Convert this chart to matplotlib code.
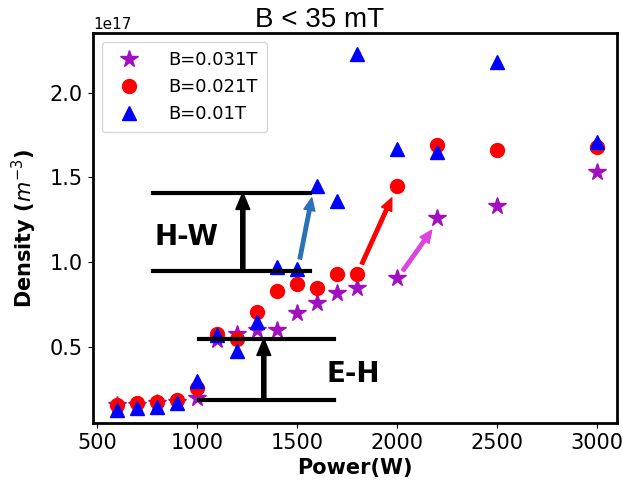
import numpy as np
import matplotlib.pyplot as plt

power = [600, 700, 800, 900, 1000, 1100, 1200, 1300, 1400, 1500, 1600, 1700, 1800, 2000, 2200, 2500, 3000]
dens_031 = [0.16, 0.16, 0.17, 0.18, 0.20, 0.54, 0.58, 0.60, 0.60, 0.70, 0.76, 0.82, 0.85, 0.91, 1.26, 1.33, 1.53]
dens_021 = [0.16, 0.17, 0.18, 0.19, 0.26, 0.58, 0.55, 0.71, 0.83, 0.87, 0.85, 0.93, 0.93, 1.45, 1.69, 1.66, 1.68]
dens_01 = [0.13, 0.14, 0.15, 0.17, 0.30, 0.57, 0.48, 0.65, 0.97, 0.96, 1.45, 1.36, 2.23, 1.67, 1.65, 2.18, 1.71]

scale = 1e17
fig = plt.figure(figsize=(6.23, 4.96), dpi=100)
ax = fig.add_axes([0.149, 0.147, 0.841, 0.786])

ax.plot(power, np.array(dens_031) * scale, '*', color='#a010c0', markersize=13, label='B=0.031T')
ax.plot(power, np.array(dens_021) * scale, 'o', color='red', markersize=10, label='B=0.021T')
ax.plot(power, np.array(dens_01) * scale, '^', color='blue', markersize=10, label='B=0.01T')

# H-W and E-H transition markers
for y in [1.41, 0.95]:
    ax.plot([780, 1565], [y * scale, y * scale], color='black', lw=3)
for y in [0.55, 0.19]:
    ax.plot([1010, 1685], [y * scale, y * scale], color='black', lw=3)
ax.annotate('', xy=(1230, 1.41 * scale), xytext=(1230, 0.95 * scale),
            arrowprops=dict(facecolor='black', edgecolor='black', width=3, headwidth=10, headlength=12))
ax.annotate('', xy=(1335, 0.55 * scale), xytext=(1335, 0.19 * scale),
            arrowprops=dict(facecolor='black', edgecolor='black', width=3, headwidth=10, headlength=12))
ax.text(790, 1.15 * scale, 'H-W', fontsize=20, fontweight='bold', va='center')
ax.text(1650, 0.34 * scale, 'E-H', fontsize=20, fontweight='bold', va='center')

# coloured arrows
ax.annotate('', xy=(1575, 1.38 * scale), xytext=(1515, 1.02 * scale),
            arrowprops=dict(facecolor='#2a72b5', edgecolor='#2a72b5', width=2.5, headwidth=8, headlength=9))
ax.annotate('', xy=(1975, 1.38 * scale), xytext=(1825, 0.99 * scale),
            arrowprops=dict(facecolor='red', edgecolor='red', width=2.5, headwidth=8, headlength=9))
ax.annotate('', xy=(2175, 1.19 * scale), xytext=(2030, 0.95 * scale),
            arrowprops=dict(facecolor='#dd44dd', edgecolor='#dd44dd', width=2.5, headwidth=8, headlength=9))

ax.set_xlim(480, 3100)
ax.set_ylim(0.053 * scale, 2.35 * scale)
ax.set_xticks([500, 1000, 1500, 2000, 2500, 3000])
ax.set_yticks([0.5e17, 1.0e17, 1.5e17, 2.0e17])
ax.tick_params(labelsize=15)
ax.yaxis.get_offset_text().set_fontsize(11)
for s in ax.spines.values():
    s.set_linewidth(2)

ax.set_title('B < 35 mT', fontsize=20, family='Liberation Sans', pad=4, x=0.433)
ax.set_xlabel('Power(W)', fontsize=15, fontweight='bold')
ax.set_ylabel('Density ($m^{-3}$)', fontsize=15, fontweight='bold', labelpad=8)
ax.legend(loc='upper left', fontsize=13, handletextpad=1.2, borderpad=0.5)

fig.savefig('out.png', dpi=100)
